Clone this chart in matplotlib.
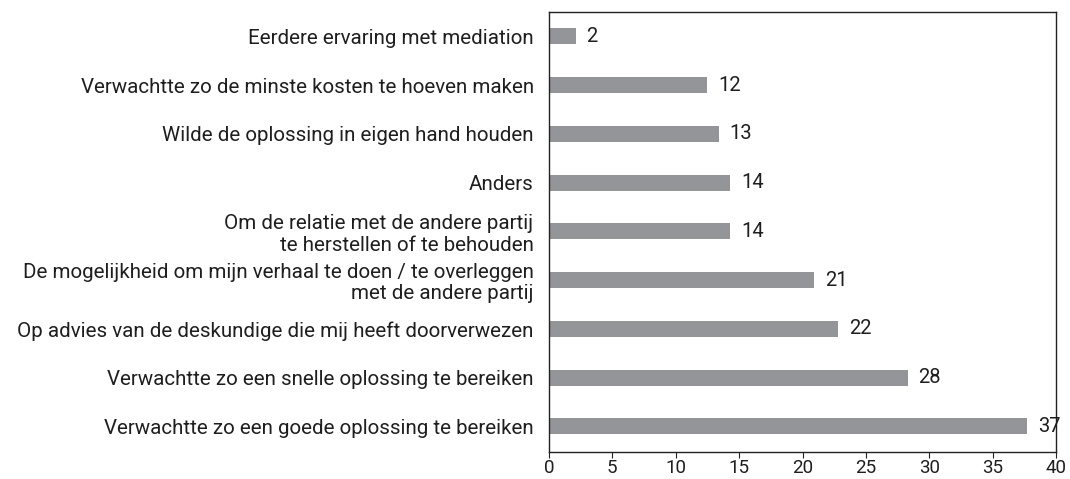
import matplotlib.pyplot as plt

categories = [
    "Eerdere ervaring met mediation",
    "Verwachtte zo de minste kosten te hoeven maken",
    "Wilde de oplossing in eigen hand houden",
    "Anders",
    "Om de relatie met de andere partij\nte herstellen of te behouden",
    "De mogelijkheid om mijn verhaal te doen / te overleggen\nmet de andere partij",
    "Op advies van de deskundige die mij heeft doorverwezen",
    "Verwachtte zo een snelle oplossing te bereiken",
    "Verwachtte zo een goede oplossing te bereiken",
]
values = [2.1, 12.5, 13.4, 14.3, 14.3, 20.9, 22.8, 28.3, 37.7]
value_labels = ["2", "12", "13", "14", "14", "21", "22", "28", "37"]
xticks = [0, 5, 10, 15, 20, 25, 30, 35, 40]

plt.rcParams["font.family"] = ["Roboto", "DejaVu Sans"]
text_color = "#1e1e1e"

fig = plt.figure(figsize=(10.7, 4.79), dpi=100)
ax = fig.add_axes([0.513, 0.056, 0.474, 0.919])

pos = list(range(len(categories)))
ax.barh(pos, values, height=0.33, color="#939598")
for p, v, lab in zip(pos, values, value_labels):
    ax.text(v + 0.85, p, lab, va="center", ha="left", fontsize=14.5, color=text_color)

ax.set_yticks(pos)
ax.set_yticklabels(categories, fontsize=14.8, color=text_color, ha="right", linespacing=1.15)
ax.tick_params(axis="y", length=0, pad=11)
ax.set_xticks(xticks)
ax.set_xticklabels([str(t) for t in xticks], fontsize=13.5, color=text_color)
ax.tick_params(axis="x", length=4, color="#222222", pad=1)
ax.set_xlim(0, 40)
ax.set_ylim(8.53, -0.5)
for s in ax.spines.values():
    s.set_color("#222222")
    s.set_linewidth(1)

fig.savefig("out.png", dpi=100)
